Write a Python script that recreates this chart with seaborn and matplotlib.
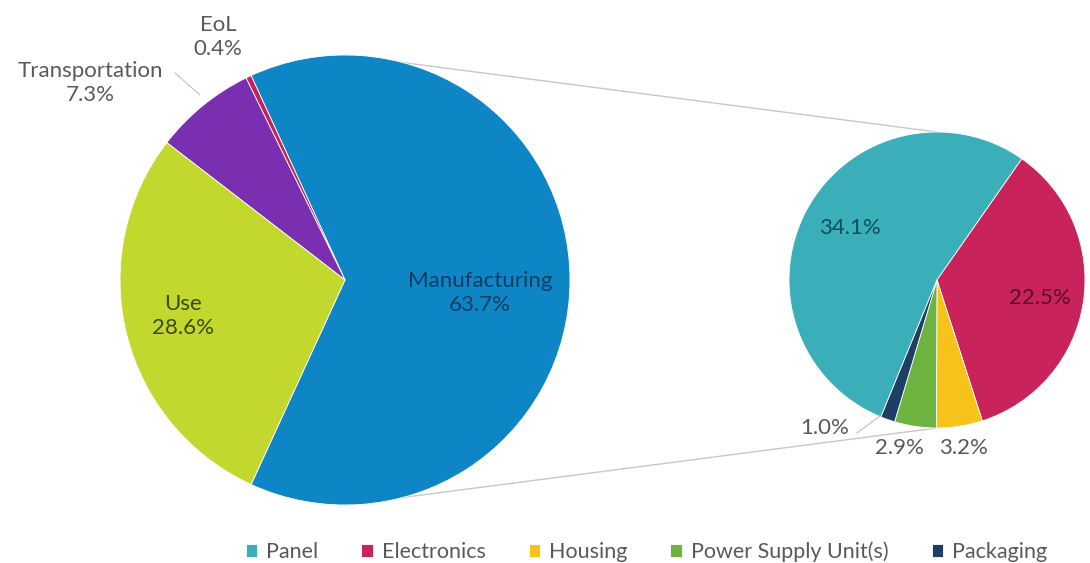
import matplotlib
matplotlib.use("Agg")
import matplotlib.pyplot as plt
import seaborn as sns
import numpy as np

# main pie
main_labels = ['Manufacturing', 'EoL', 'Transportation', 'Use']
main_values = [63.7, 0.4, 7.3, 28.6]
main_colors = ['#0E86C6', '#C0245C', '#7A2FB0', '#C3D82E']

# breakdown of manufacturing
sub_labels = ['Panel', 'Electronics', 'Housing', 'Power Supply Unit(s)', 'Packaging']
sub_values = [34.1, 22.5, 3.2, 2.9, 1.0]
sub_colors = ['#3AAFB9', '#C9235B', '#F7C31A', '#6DB33F', '#1D3F66']

sns.set_theme(style='white')
plt.rcParams['font.family'] = ['Lato', 'DejaVu Sans']

W, H = 1090, 563
fig = plt.figure(figsize=(W / 100, H / 100), dpi=100)
ax = fig.add_axes([0, 0, 1, 1])

R = 225.0          # main radius in px
cx, cy = 345, 280  # main center px


def px(x, y):
    return (x - cx) / R, (cy - y) / R


sub_c = px(937, 280)
sub_r = 148 / R

# manufacturing centred on the right
man_deg = main_values[0] / sum(main_values) * 360
start_main = -man_deg / 2
ax.pie(main_values, colors=main_colors, startangle=start_main, center=(0, 0), radius=1,
       counterclock=True, wedgeprops=dict(linewidth=0.6, edgecolor='white'))

# sub pie, clockwise, Panel ending at the top-right
sub_total = sum(sub_values)
panel_deg = sub_values[0] / sub_total * 360
start_sub = 55 + panel_deg
wedges, _ = ax.pie(sub_values, colors=sub_colors, startangle=start_sub, center=sub_c,
                   radius=sub_r, counterclock=False,
                   wedgeprops=dict(linewidth=0.6, edgecolor='white'))

# connector lines, top to top and bottom to bottom
for s in (1, -1):
    ax.plot([0, sub_c[0]], [s * 1, sub_c[1] + s * sub_r], color='#C8C8C8', lw=1, zorder=0)

fs = 16
grey = '#595959'
t = dict(ha='center', va='center', fontsize=fs, linespacing=1.3)
ax.text(*px(218, 37), '%s\n%.1f%%' % (main_labels[1], main_values[1]), color=grey, **t)
ax.text(*px(90, 83), '%s\n%.1f%%' % (main_labels[2], main_values[2]), color=grey, **t)
ax.text(*px(183, 316), '%s\n%.1f%%' % (main_labels[3], main_values[3]), color='#3B4A05', **t)
ax.text(*px(480, 293), '%s\n%.1f%%' % (main_labels[0], main_values[0]), color='#0B3D63', **t)

ax.plot(*zip(px(175, 73), px(200, 95)), color='#BFBFBF', lw=0.8)
ax.plot(*zip(px(857, 433), px(880, 416)), color='#BFBFBF', lw=0.8)

ax.text(*px(850, 228), '%.1f%%' % sub_values[0], color='#0F4E55', **t)
ax.text(*px(1040, 298), '%.1f%%' % sub_values[1], color='#5C0B27', **t)
ax.text(*px(963, 448), '%.1f%%' % sub_values[2], color=grey, **t)
ax.text(*px(899, 448), '%.1f%%' % sub_values[3], color=grey, **t)
ax.text(*px(825, 428), '%.1f%%' % sub_values[4], color=grey, **t)

ax.set_xlim(-cx / R, (W - cx) / R)
ax.set_ylim(-(H - cy) / R, cy / R)
ax.set_aspect('equal')
ax.axis('off')

fig.legend(wedges, sub_labels, loc='center', bbox_to_anchor=(0.593, 0.02), ncol=5,
           frameon=False, fontsize=15.5, handlelength=0.55, handleheight=0.55,
           handletextpad=0.4, columnspacing=2.0, labelcolor=grey)

fig.savefig('out.png', dpi=100)
